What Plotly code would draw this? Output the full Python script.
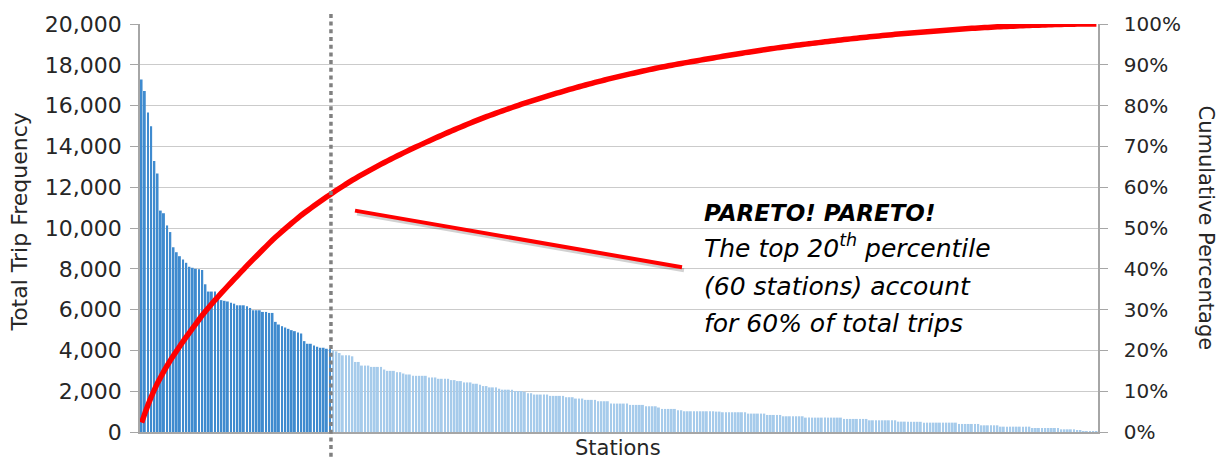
import numpy as np
import plotly.graph_objects as go

# Total trips per station, ranked from busiest (rank 1) to quietest (rank 300)
trips_rank_1_60 = [
    17285, 16718, 15665, 14985, 13284, 12668, 10854, 10724, 10125, 9801,
    9056, 8813, 8618, 8456, 8294, 8100, 8050, 8000, 7980, 7940,
    7241, 6885, 6885, 6885, 6593, 6464, 6431, 6399, 6341, 6290,
    6211, 6211, 6211, 6163, 6081, 5967, 5967, 5967, 5886, 5886,
    5837, 5837, 5398, 5268, 5187, 5122, 5057, 4992, 4943, 4878,
    4829, 4455, 4325, 4325, 4244, 4179, 4130, 4130, 4081, 4065,
]
trips_rank_61_120 = [
    4001, 3953, 3872, 3758, 3758, 3758, 3710, 3434, 3434, 3256,
    3256, 3256, 3191, 3191, 3191, 3191, 3062, 2997, 2997, 2997,
    2932, 2932, 2867, 2819, 2819, 2754, 2754, 2754, 2754, 2754,
    2673, 2673, 2673, 2608, 2608, 2608, 2608, 2543, 2543, 2495,
    2495, 2430, 2430, 2430, 2365, 2365, 2317, 2252, 2252, 2187,
    2187, 2187, 2122, 2074, 2074, 2074, 2074, 2009, 2009, 2009,
]
trips_rank_121_180 = [
    1967, 1901, 1901, 1836, 1836, 1836, 1836, 1836, 1770, 1770,
    1770, 1770, 1770, 1705, 1705, 1705, 1639, 1639, 1639, 1574,
    1574, 1574, 1574, 1508, 1508, 1508, 1508, 1393, 1393, 1393,
    1393, 1393, 1393, 1328, 1328, 1328, 1328, 1328, 1262, 1262,
    1262, 1262, 1200, 1131, 1131, 1131, 1131, 1131, 1066, 1066,
    1016, 1016, 1016, 1016, 1016, 1016, 1016, 1016, 1016, 1016,
]
trips_rank_181_240 = [
    1000, 1000, 968, 968, 968, 968, 968, 968, 968, 968,
    902, 902, 902, 902, 902, 902, 836, 836, 836, 836,
    836, 771, 771, 771, 771, 771, 771, 771, 705, 705,
    705, 705, 705, 705, 705, 705, 705, 705, 705, 705,
    640, 640, 640, 640, 640, 640, 640, 640, 574, 574,
    574, 574, 574, 574, 574, 574, 574, 508, 508, 508,
]
trips_rank_241_300 = [
    500, 500, 500, 500, 500, 459, 459, 459, 459, 459,
    459, 459, 459, 459, 459, 459, 394, 394, 394, 394,
    394, 394, 394, 328, 328, 328, 328, 328, 328, 262,
    262, 262, 262, 262, 262, 262, 262, 262, 262, 197,
    197, 197, 197, 197, 197, 197, 197, 197, 131, 131,
    131, 131, 131, 66, 66, 33, 33, 15, 15, 15,
]

top_cutoff = 60  # stations making up the top 20th percentile

trips = np.array(trips_rank_1_60 + trips_rank_61_120 + trips_rank_121_180
                 + trips_rank_181_240 + trips_rank_241_300, dtype=float)
ranks = np.arange(1, len(trips) + 1)
cumulative_share = np.cumsum(trips) / trips.sum()

bar_fill = ["#3F8BCF" if r <= top_cutoff else "#A6CBEB" for r in ranks]

FONT = "DejaVu Sans"
TEXT = "#262626"
AXIS = "#A6A6A6"

fig = go.Figure()
fig.add_trace(go.Bar(
    x=ranks, y=trips,
    marker=dict(color=bar_fill, line=dict(width=0)),
    showlegend=False, hoverinfo="skip",
))
fig.add_trace(go.Scatter(
    x=ranks, y=cumulative_share, yaxis="y2", mode="lines",
    line=dict(color="#FF0000", width=5.5, simplify=False),
    showlegend=False, hoverinfo="skip",
))

# plot area spans 140..1098 px horizontally and 21..432 px vertically
L, R, T, B = 140, 1098, 21, 432


def px_x(px):
    return (px - L) / (R - L)


def px_y(py):
    return (B - py) / (B - T)


fig.update_layout(
    width=1226, height=462,
    margin=dict(l=L, r=1226 - R, t=T, b=462 - B),
    paper_bgcolor="white", plot_bgcolor="white",
    bargap=0.4,
    font=dict(family=FONT, color=TEXT),
    xaxis=dict(
        range=[0.5, len(trips) + 0.5], showticklabels=False, ticks="",
        showgrid=False, zeroline=False,
        showline=True, linecolor=AXIS, linewidth=1.5,
    ),
    yaxis=dict(
        range=[0, 20000], dtick=2000, tickformat=",",
        tickfont=dict(size=22, color=TEXT, family=FONT),
        ticks="outside", ticklen=8, tickcolor=AXIS, tickwidth=1.2,
        ticklabelstandoff=4,
        showgrid=True, gridcolor="#CBCBCB", gridwidth=1.3,
        zeroline=False, showline=True, linecolor=AXIS, linewidth=1.5,
    ),
    yaxis2=dict(
        overlaying="y", side="right",
        range=[0, 1], dtick=0.1, tickformat=".0%",
        tickfont=dict(size=20, color=TEXT, family=FONT),
        ticks="outside", ticklen=8, tickcolor=AXIS, tickwidth=1.2,
        ticklabelstandoff=12,
        showgrid=False, zeroline=False,
        showline=True, linecolor=AXIS, linewidth=1.5,
    ),
)

# cutoff marker at the 60th station
fig.add_shape(
    type="line", xref="x", yref="paper",
    x0=top_cutoff + 0.3, x1=top_cutoff + 0.3, y0=px_y(457), y1=px_y(8),
    line=dict(color="#808080", width=3.5, dash="4px,3.7px"),
    layer="above",
)

# call-out pointer (soft shadow underneath, red stroke on top)
fig.add_shape(
    type="line", xref="paper", yref="paper",
    x0=px_x(357), y0=px_y(212), x1=px_x(684), y1=px_y(269),
    line=dict(color="rgba(0,0,0,0.18)", width=4), layer="above",
)
fig.add_shape(
    type="line", xref="paper", yref="paper",
    x0=px_x(355), y0=px_y(209), x1=px_x(682), y1=px_y(266),
    line=dict(color="#FF0000", width=4), layer="above",
)

callout = [
    ("<b><i>PARETO! PARETO!</i></b>", 211, 23),
    ("<i>The top 20<sup>th</sup> percentile</i>", 245, 25),
    ("<i>(60 stations) account</i>", 285, 25),
    ("<i>for 60% of total trips</i>", 323, 25),
]
for text, y_px, size in callout:
    fig.add_annotation(
        text=text, xref="paper", yref="paper",
        x=px_x(702), y=px_y(y_px), xanchor="left", yanchor="middle",
        showarrow=False, font=dict(size=size, color="#000000", family=FONT),
    )

# axis titles
fig.add_annotation(
    text="Total Trip Frequency", xref="paper", yref="paper",
    x=px_x(20), y=px_y(221), xanchor="center", yanchor="middle",
    textangle=-90, showarrow=False,
    font=dict(size=22, color=TEXT, family=FONT),
)
fig.add_annotation(
    text="Cumulative Percentage", xref="paper", yref="paper",
    x=px_x(1206), y=px_y(226), xanchor="center", yanchor="middle",
    textangle=90, showarrow=False,
    font=dict(size=21, color=TEXT, family=FONT),
)
fig.add_annotation(
    text="Stations", xref="paper", yref="paper",
    x=px_x(618), y=px_y(448), xanchor="center", yanchor="middle",
    showarrow=False, font=dict(size=21, color=TEXT, family=FONT),
)

fig.write_html("out.html")
